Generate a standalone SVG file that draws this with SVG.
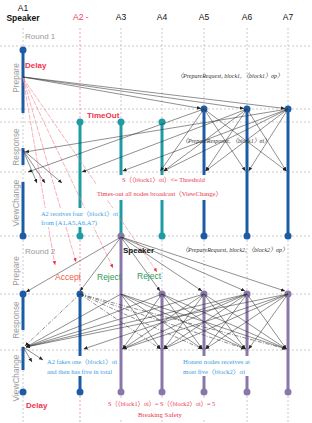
<svg xmlns="http://www.w3.org/2000/svg" width="312" height="423" viewBox="0 0 312 423">
<style>
.hd{font-family:"Liberation Sans",Arial,sans-serif;font-size:8.5px;fill:#111;text-anchor:middle}
.bd{font-weight:bold}
.dot{stroke:#bdbdbd;stroke-width:0.8;stroke-dasharray:2 2;fill:none}
.rdot{stroke:#f08a8a;stroke-width:0.8;stroke-dasharray:2 2;fill:none}
.bb{stroke:#1c5ca6;stroke-width:3;fill:none}
.tb{stroke:#1f9ba5;stroke-width:3;fill:none}
.pb{stroke:#8877a8;stroke-width:3;fill:none}
.cb{fill:#1c5ca6}.ct{fill:#1f9ba5}.cp{fill:#8877a8}
.ph{font-family:"Liberation Sans",Arial,sans-serif;font-size:8.3px;fill:#9a9a9a;text-anchor:middle}
.gr{font-family:"Liberation Sans",Arial,sans-serif;font-size:8px;fill:#999}
.red{font-family:"Liberation Sans",Arial,sans-serif;font-size:8px;font-weight:bold;fill:#f0344c}
.ln{stroke:#333;stroke-width:0.55;fill:none;marker-end:url(#ah)}
.dd{stroke:#333;stroke-width:0.55;stroke-dasharray:4 1.5 1 1.5;fill:none;marker-end:url(#ah)}
.pk{stroke:#f27c8c;stroke-width:0.6;fill:none;stroke-dasharray:5 1.2;marker-end:url(#ahr)}
.it{font-family:"Liberation Serif","Noto Sans CJK SC",serif;font-style:italic;font-size:6.5px;fill:#333}
.rs{font-family:"Liberation Serif","Noto Sans CJK SC",serif;font-size:6.8px;fill:#e8364c}
.bs{font-family:"Liberation Serif","Noto Sans CJK SC",serif;font-size:6.8px;fill:#3a9de0}
.wb{fill:#fff}
</style>
<defs>
<marker id="ah" markerUnits="userSpaceOnUse" markerWidth="4" markerHeight="4" viewBox="0 0 8 8" refX="8" refY="4" orient="auto"><path d="M0,0.5 L8,4 L0,7.5z" fill="#222"/></marker>
<marker id="ahr" markerUnits="userSpaceOnUse" markerWidth="4" markerHeight="4" viewBox="0 0 8 8" refX="8" refY="4" orient="auto"><path d="M0,0.5 L8,4 L0,7.5z" fill="#f0344c"/></marker>
</defs>
<rect width="312" height="423" fill="#fff"/>

<g id="grid">
<path class="dot" d="M0,46H312M0,109H312M0,122H312M0,172H312M0,236H312M0,294H312M0,350H312"/>
</g>

<g id="phases">
<text class="ph" transform="translate(18.5,78) rotate(-90)">Prepare</text>
<text class="ph" transform="translate(18.5,147) rotate(-90)">Response</text>
<text class="ph" transform="translate(18.5,203) rotate(-90)">ViewChange</text>
<text class="ph" transform="translate(18.5,271) rotate(-90)">Prepare</text>
<text class="ph" transform="translate(18.5,320) rotate(-90)">Response</text>
<text class="ph" transform="translate(18.5,378) rotate(-90)">ViewChange</text>
<text class="gr" x="25" y="39">Round 1</text>
<text class="gr" x="25" y="254">Round 2</text>
</g>

<g id="A1">
<text class="hd" x="23" y="11">A1</text>
<text class="hd bd" x="23" y="21">Speaker</text>
<path class="dot" d="M23,28V46M23,113V148M23,165V182M23,236V294M23,330V347M23,370V392M23,392V423"/>
<path class="bb" d="M23,50V113M23,148V165M23,182V236M23,294V330M23,347V370"/>
<circle class="cb" cx="23" cy="50" r="3.5"/><circle class="cb" cx="23" cy="236" r="3.5"/>
<circle class="cb" cx="23" cy="294" r="3.5"/><circle class="cb" cx="23" cy="392" r="3.5"/>
</g>
<g id="A2">
<text class="hd" x="73" y="20" style="text-anchor:start;fill:#f0405a">A2 -</text>
<path class="rdot" d="M80,28V122M80,236V294M80,392V423"/>
<path class="tb" d="M80,122V236"/>
<path class="bb" d="M80,294V392"/>
<circle class="ct" cx="80" cy="122" r="3.5"/><circle class="ct" cx="80" cy="236" r="3.5"/>
<circle class="cb" cx="80" cy="294" r="3.5"/><circle class="cb" cx="80" cy="392" r="3.5"/>
</g>
<g id="A3">
<text class="hd" x="121" y="20">A3</text>
<path class="dot" d="M121,28V122M121,392V423"/>
<path class="tb" d="M121,122V236"/>
<path class="pb" d="M121,236V392"/>
<circle class="ct" cx="121" cy="122" r="3.5"/><circle class="cp" cx="121" cy="236" r="3.5"/><circle class="cp" cx="121" cy="392" r="3.5"/>
</g>
<g id="A4">
<text class="hd" x="162" y="20">A4</text>
<path class="dot" d="M162,28V122M162,236V294M162,392V423"/>
<path class="tb" d="M162,122V236"/>
<path class="pb" d="M162,294V392"/>
<circle class="ct" cx="162" cy="122" r="3.5"/><circle class="ct" cx="162" cy="236" r="3.5"/>
<circle class="cp" cx="162" cy="294" r="3.5"/><circle class="cp" cx="162" cy="392" r="3.5"/>
</g>
<g id="A5">
<text class="hd" x="204" y="20">A5</text>
<path class="dot" d="M204,28V109M204,236V294M204,392V423"/>
<path class="bb" d="M204,109V236"/>
<path class="pb" d="M204,294V392"/>
<circle class="cb" cx="204" cy="109" r="3.5"/><circle class="cb" cx="204" cy="236" r="3.5"/>
<circle class="cp" cx="204" cy="294" r="3.5"/><circle class="cp" cx="204" cy="392" r="3.5"/>
</g>
<g id="A6">
<text class="hd" x="247" y="20">A6</text>
<path class="dot" d="M247,28V109M247,236V294M247,392V423"/>
<path class="bb" d="M247,109V236"/>
<path class="pb" d="M247,294V392"/>
<circle class="cb" cx="247" cy="109" r="3.5"/><circle class="cb" cx="247" cy="236" r="3.5"/>
<circle class="cp" cx="247" cy="294" r="3.5"/><circle class="cp" cx="247" cy="392" r="3.5"/>
</g>
<g id="A7">
<text class="hd" x="288" y="20">A7</text>
<path class="dot" d="M288,28V109M288,236V294M288,392V423"/>
<path class="bb" d="M288,109V236"/>
<path class="pb" d="M288,294V392"/>
<circle class="cb" cx="288" cy="109" r="3.5"/><circle class="cb" cx="288" cy="236" r="3.5"/>
<circle class="cp" cx="288" cy="294" r="3.5"/><circle class="cp" cx="288" cy="392" r="3.5"/>
</g>

<g id="connectors">
<path class="ln" d="M23,77L201,108.5"/>
<path class="ln" d="M23,77L244,108.5"/>
<path class="ln" d="M23,77L285,108.5"/>
<path class="pk" d="M23,78L55,265"/>
<path class="pk" d="M23,78L76,262"/>
<path class="pk" d="M23,78L113,268"/>
<path class="pk" d="M23,78L157,272"/>
<path class="ln" d="M204,109L28,172"/>
<path class="ln" d="M247,109L82,172"/>
<path class="ln" d="M288,109L122.6,171"/>
<path class="ln" d="M288,109L25,152"/>
<path class="ln" d="M204,109L160.4,171"/>
<path class="ln" d="M204,109L245.4,171"/>
<path class="ln" d="M204,109L286.4,171"/>
<path class="ln" d="M247,109L163.6,171"/>
<path class="ln" d="M247,109L205.6,171"/>
<path class="ln" d="M247,109L286.4,171"/>
<path class="ln" d="M288,109L163.6,171"/>
<path class="ln" d="M288,109L205.6,171"/>
<path class="ln" d="M288,109L248.6,171"/>
<path class="ln" d="M23,150L37,183"/>
<path class="ln" d="M23,150L45,183"/>
<path class="ln" d="M23,150L62,183"/>
<path class="ln" d="M121,237L26,292"/>
<path class="ln" d="M121,237L80,291"/>
<path class="ln" d="M121,237L160,291"/>
<path class="ln" d="M121,237L202,291"/>
<path class="ln" d="M121,237L245,291"/>
<path class="ln" d="M121,237L285,291"/>
<path class="ln" d="M121,294L26,347"/>
<path class="ln" d="M121,294L160.4,349"/>
<path class="ln" d="M121,294L202.4,349"/>
<path class="ln" d="M121,294L245.4,349"/>
<path class="ln" d="M121,294L286.4,349"/>
<path class="ln" d="M162,294L26,347"/>
<path class="ln" d="M162,294L122.6,349"/>
<path class="ln" d="M162,294L202.4,349"/>
<path class="ln" d="M162,294L245.4,349"/>
<path class="ln" d="M162,294L286.4,349"/>
<path class="ln" d="M204,294L26,347"/>
<path class="ln" d="M204,294L122.6,349"/>
<path class="ln" d="M204,294L163.6,349"/>
<path class="ln" d="M204,294L245.4,349"/>
<path class="ln" d="M204,294L286.4,349"/>
<path class="ln" d="M247,294L26,347"/>
<path class="ln" d="M247,294L83.6,349"/>
<path class="ln" d="M247,294L122.6,349"/>
<path class="ln" d="M247,294L163.6,349"/>
<path class="ln" d="M247,294L205.6,349"/>
<path class="ln" d="M247,294L286.4,349"/>
<path class="ln" d="M288,294L26,347"/>
<path class="ln" d="M288,294L122.6,349"/>
<path class="ln" d="M288,294L163.6,349"/>
<path class="ln" d="M288,294L205.6,349"/>
<path class="ln" d="M288,294L248.6,349"/>
<path class="dd" d="M80,294L25,346"/>
<path class="dd" d="M80,294L160.4,349"/>
<path class="dd" d="M80,294L202.4,349"/>
<path class="dd" d="M80,294L245.4,349"/>
<path class="dd" d="M80,294L286.4,349"/>
<path class="ln" d="M23,347L32,362"/>
<path class="ln" d="M23,347L43,360"/>
</g>

<g id="labels">
<text class="red" x="25" y="68">Delay</text>
<text class="red" x="87" y="118">TimeOut</text>
<text class="red" x="26" y="408">Delay</text>
<text class="hd bd" x="123" y="253" style="text-anchor:start;font-size:8px">Speaker</text>
<text x="55" y="280" style="font-family:'Liberation Sans',Arial,sans-serif;font-size:8.5px;fill:#f0604c">Accept</text>
<text x="97" y="280" style="font-family:'Liberation Sans',Arial,sans-serif;font-size:8.5px;fill:#2e9a5a">Reject</text>
<text x="137" y="279" style="font-family:'Liberation Sans',Arial,sans-serif;font-size:8.5px;fill:#2e9a5a">Reject</text>

<text class="it" x="177" y="78" textLength="106" lengthAdjust="spacingAndGlyphs">〈PrepareRequest, block1, 〈block1〉σp〉</text>
<text class="it" x="182" y="143" textLength="88" lengthAdjust="spacingAndGlyphs">〈PrepareResponse, 〈block1〉σi〉</text>
<text class="it" x="182" y="252" textLength="106" lengthAdjust="spacingAndGlyphs">〈PrepareRequest, block2, 〈block2〉σp〉</text>

<rect class="wb" x="96" y="175" width="127" height="25"/>
<text class="rs" x="122" y="182" textLength="83" lengthAdjust="spacingAndGlyphs">S（〈block1〉σi）&lt;= Threshold</text>
<text class="rs" x="97" y="196" textLength="125" lengthAdjust="spacingAndGlyphs">Times-out all nodes broadcast〈ViewChange〉</text>

<rect class="wb" x="40" y="208" width="79" height="19"/>
<text class="bs" x="41" y="216" textLength="77" lengthAdjust="spacingAndGlyphs">A2 receives four〈block1〉σi</text>
<text class="bs" x="41" y="225" textLength="56" lengthAdjust="spacingAndGlyphs">from (A1,A5,A6,A7)</text>

<rect class="wb" x="46" y="356" width="72" height="20"/>
<text class="bs" x="47" y="364" textLength="70" lengthAdjust="spacingAndGlyphs">A2 fakes one〈block1〉σi</text>
<text class="bs" x="47" y="374" textLength="65" lengthAdjust="spacingAndGlyphs">and then has five in total</text>

<rect class="wb" x="182" y="356" width="69" height="20"/>
<text class="bs" x="183" y="364" textLength="67" lengthAdjust="spacingAndGlyphs">Honest nodes receives at</text>
<text class="bs" x="183" y="374" textLength="62" lengthAdjust="spacingAndGlyphs">most five〈block2〉σi</text>

<rect class="wb" x="107" y="399" width="109" height="21"/>
<text class="rs" x="108" y="406" textLength="107" lengthAdjust="spacingAndGlyphs">S（〈block1〉σi）= S（〈block2〉σi）= 5</text>
<text class="rs" x="138" y="417" textLength="44" lengthAdjust="spacingAndGlyphs">Breaking Safety</text>
</g>
</svg>
